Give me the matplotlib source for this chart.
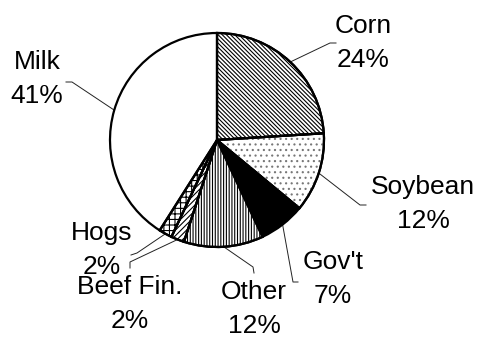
import numpy as np
import matplotlib
matplotlib.use("Agg")
import matplotlib.pyplot as plt
from matplotlib.patches import Wedge

# farm income shares, clockwise from 12 o'clock
categories = ["Corn", "Soybean", "Gov't", "Other", "Beef Fin.", "Hogs", "Milk"]
shares = [24, 12, 7, 12, 2, 2, 41]
hatches = ["\\" * 8, "...", "", "|" * 6, "/" * 6, "+++", ""]
hatch_colors = ["black", "#777777", "black", "black", "black", "black", "black"]
fills = ["white", "white", "black", "white", "white", "white", "white"]

# label layout in pixel coordinates (top-left origin): text centre, leader elbow, leader end
label_pos = [(363, 43), (423, 204), (333, 279), (254, 309), (130, 304), (102, 250), (37, 79)]
elbows = [(330, 43), (360, 205), (293, 282), (253, 267), (130, 262), (137, 253), (72, 82)]
ends = [(336, 43), (366, 205), (298, 282), (254, 273), (130, 268), (131, 255), (66, 82)]

W, H = 479, 337
CX, CY, R = 217, 140, 107

plt.rcParams["font.family"] = ["Liberation Sans", "DejaVu Sans"]
plt.rcParams["hatch.linewidth"] = 0.8


def px(x, y):
    return x, H - y


fig = plt.figure(figsize=(W / 100, H / 100), dpi=100)
ax = fig.add_axes([0, 0, 1, 1])

wedges, _ = ax.pie(shares, startangle=90, counterclock=False, center=px(CX, CY),
                   radius=R, colors=fills, frame=True,
                   wedgeprops=dict(edgecolor="black", linewidth=1.6))

# hatching drawn as separate overlays so the hatch colour can differ from the outline
for w, h, hc in zip(wedges, hatches, hatch_colors):
    if h:
        ax.add_patch(Wedge(w.center, w.r, w.theta1, w.theta2, fill=False,
                           hatch=h, edgecolor=hc, linewidth=0, zorder=w.get_zorder() + 0.1))
        ax.add_patch(Wedge(w.center, w.r, w.theta1, w.theta2, fill=False,
                           edgecolor="black", linewidth=1.6, zorder=w.get_zorder() + 0.2))

ax.set_xlim(0, W)
ax.set_ylim(0, H)
ax.set_aspect("equal")
ax.axis("off")

for w, name, v, (tx, ty), el, en in zip(wedges, categories, shares, label_pos, elbows, ends):
    mid = np.deg2rad((w.theta1 + w.theta2) / 2)
    ax0 = w.center[0] + w.r * np.cos(mid)
    ay0 = w.center[1] + w.r * np.sin(mid)
    xs = [ax0, px(*el)[0], px(*en)[0]]
    ys = [ay0, px(*el)[1], px(*en)[1]]
    ax.plot(xs, ys, color="#222222", linewidth=0.7, zorder=0.5)
    ax.text(*px(tx, ty), f"{name}\n{v}%", ha="center", va="center",
            fontsize=19, linespacing=1.5)

fig.savefig("out.png", dpi=100)
